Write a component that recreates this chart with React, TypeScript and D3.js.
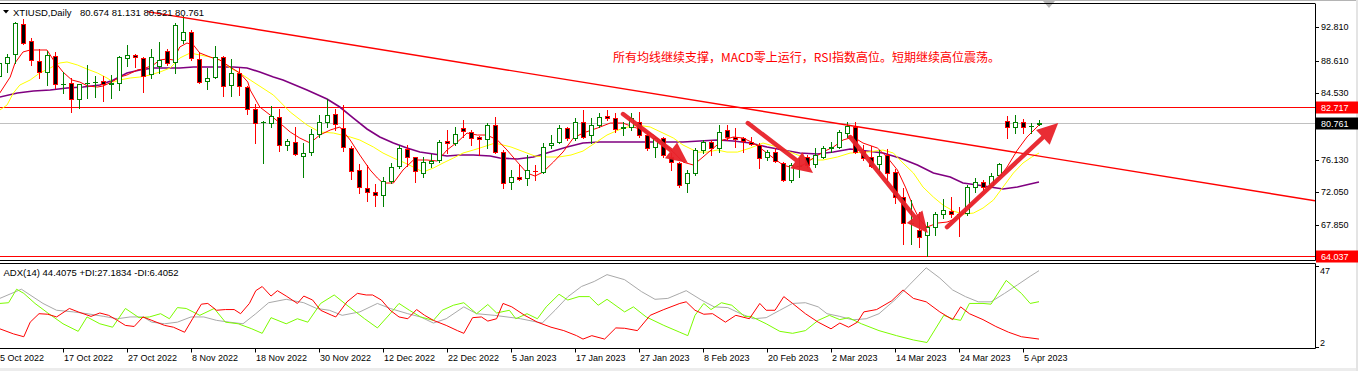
import React from "react";
import * as d3 from "d3";

// daily bars, XTIUSD, 5 Oct 2022 .. Apr 2023
const opens = [
  86.67, 88.31, 89.44, 93.23, 91.08, 88.56, 87.17, 89.19, 85.6, 85.79,
  83.77, 85.78, 85.91, 86.04, 85.7, 85.79, 88.94, 89.32, 88.94, 86.92,
  87.93, 89.82, 88.44, 91.21, 92.22, 88.81, 86.04, 86.54, 89.06, 85.53,
  87.05, 85.28, 82.51, 80.87, 80.74, 81.5, 77.97, 78.35, 76.58, 77.09,
  79.36, 80.87, 81.88, 80.11, 77.59, 74.82, 72.55, 72.04, 71.66, 73.43,
  75.32, 77.46, 76.46, 74.44, 75.7, 76.08, 78.47, 78.22, 80.11, 79.61,
  78.98, 78.73, 80.49, 77.09, 73.3, 73.93, 73.81, 74.75, 74.6, 77.97,
  78.38, 80.07, 78.81, 80.91, 79.23, 80.49, 81.63, 81.34, 80.17, 80.28,
  80.91, 79.23, 77.75, 78.81, 76.49, 75.66, 73.14, 74.4, 77.34, 78.38,
  77.55, 79.86, 79.01, 78.81, 78.38, 77.97, 76.49, 77.12, 75.66, 73.55,
  75.28, 76.49, 75.57, 76.49, 77.65, 77.75, 79.44, 80.3, 77.27, 76.49,
  75.57, 76.71, 74.6, 71.37, 68.17, 67.25, 66.62, 67.67, 69.27, 69.68,
  69.33, 69.43, 72.63, 73.34, 72.92, 74.18, 81.03, 80.28, 80.83, 80.34,
  80.674,
];
const highs = [
  88.69, 89.44, 93.48, 93.86, 91.46, 90.07, 89.82, 89.7, 87.17, 86.42,
  85.7, 88.06, 86.67, 86.67, 86.8, 89.19, 90.58, 89.44, 89.06, 90.07,
  90.96, 90.07, 93.35, 94.24, 92.47, 89.7, 87.68, 90.45, 89.19, 88.81,
  87.68, 85.41, 83.14, 81.0, 82.89, 82.51, 78.73, 80.24, 78.22, 79.99,
  81.75, 83.77, 82.51, 83.01, 77.84, 75.57, 75.45, 73.05, 73.93, 75.7,
  77.97, 77.97, 76.5, 76.46, 76.83, 78.6, 79.86, 80.24, 81.12, 79.86,
  79.1, 80.74, 81.5, 77.34, 74.82, 75.45, 76.71, 75.45, 78.22, 79.23,
  80.49, 80.28, 81.34, 82.38, 81.37, 82.0, 82.38, 82.04, 80.91, 82.0,
  82.17, 79.44, 79.01, 79.01, 76.92, 75.86, 74.82, 77.55, 78.6, 78.6,
  80.49, 80.49, 80.11, 79.01, 79.01, 78.18, 77.34, 77.55, 75.86, 75.66,
  76.33, 76.71, 77.55, 77.84, 78.38, 79.86, 80.91, 80.91, 77.97, 77.84,
  77.34, 77.43, 74.9, 72.51, 71.03, 69.56, 68.3, 69.56, 71.12, 71.45,
  70.11, 72.92, 73.77, 73.55, 74.48, 75.74, 81.62, 81.75, 81.21, 80.78,
  81.131,
];
const lows = [
  86.17, 87.17, 88.31, 90.7, 88.06, 86.42, 85.53, 85.16, 84.52, 82.13,
  82.63, 83.9, 84.02, 83.52, 83.9, 84.9, 87.93, 87.8, 84.65, 86.42,
  87.05, 88.06, 87.05, 90.83, 88.69, 85.79, 85.03, 86.42, 84.15, 84.15,
  84.27, 81.88, 78.22, 75.7, 80.24, 77.21, 77.34, 76.71, 73.93, 76.71,
  78.98, 80.24, 79.86, 77.21, 73.68, 71.92, 70.9, 70.28, 70.28, 73.18,
  75.07, 75.32, 73.3, 73.93, 75.19, 75.82, 76.96, 77.97, 78.98, 77.97,
  76.71, 77.59, 76.96, 72.55, 72.42, 73.55, 72.92, 73.55, 74.44, 77.55,
  78.22, 78.6, 78.6, 78.85, 78.22, 80.24, 81.12, 79.65, 79.23, 79.86,
  79.01, 77.34, 76.49, 76.49, 74.82, 72.71, 72.08, 74.18, 76.92, 76.71,
  77.12, 78.6, 77.75, 77.12, 77.97, 75.03, 76.08, 75.86, 73.47, 73.34,
  73.93, 75.23, 75.23, 76.29, 77.12, 77.55, 79.01, 76.92, 76.08, 75.16,
  74.48, 73.34, 70.62, 65.48, 65.48, 65.14, 64.04, 66.62, 68.73, 68.93,
  66.49, 69.14, 72.08, 72.29, 72.71, 73.97, 78.81, 79.44, 79.52, 79.44,
  80.521,
];
const closes = [
  88.31, 89.06, 93.35, 90.83, 88.69, 87.17, 89.32, 85.66, 85.66, 83.77,
  85.66, 85.85, 85.97, 85.66, 85.76, 89.06, 89.32, 89.06, 86.67, 89.06,
  88.69, 88.31, 93.1, 92.22, 88.94, 85.91, 86.42, 89.06, 85.41, 87.05,
  85.41, 82.51, 80.74, 80.93, 81.63, 77.97, 78.47, 76.83, 76.96, 79.36,
  80.87, 81.75, 80.62, 77.72, 74.69, 72.67, 72.04, 71.66, 73.43, 75.19,
  77.59, 76.46, 74.69, 75.82, 75.95, 78.35, 78.22, 79.36, 79.73, 78.85,
  78.73, 80.49, 77.09, 73.18, 73.93, 73.68, 74.82, 74.69, 77.75, 78.26,
  80.07, 78.81, 80.91, 79.01, 80.49, 81.46, 81.34, 79.95, 80.2, 81.34,
  79.23, 77.55, 78.81, 76.71, 75.86, 72.92, 74.4, 77.34, 78.38, 77.55,
  79.65, 79.01, 78.69, 78.51, 78.09, 76.29, 77.12, 75.99, 73.55, 75.45,
  75.32, 75.45, 76.71, 77.55, 77.68, 79.65, 80.36, 77.09, 76.29, 75.32,
  76.58, 74.48, 71.37, 68.09, 68.2, 66.33, 67.59, 69.27, 69.77, 69.27,
  69.27, 72.63, 73.34, 72.63, 74.06, 75.57, 80.28, 80.83, 80.2, 80.36,
  80.761,
];

// moving averages: [bar, price]
const maRed: [number, number][] = [
  [0.1, 84.53], [1.4, 86.54], [2.0, 88.31], [3.0, 89.7], [3.9, 89.95], [6.0, 89.95],
  [6.8, 88.69], [8.0, 87.17], [9.1, 86.17], [10.1, 85.91], [11.1, 85.41], [12.3, 85.28],
  [13.0, 85.41], [14.1, 85.91], [15.1, 86.54], [16.0, 86.8], [17.3, 87.43], [18.0, 87.55],
  [19.3, 88.06], [20.1, 88.69], [21.0, 88.81], [21.8, 88.69], [22.6, 90.33], [23.5, 90.83],
  [24.3, 90.58], [25.1, 89.57], [26.4, 89.06], [27.6, 88.69], [28.9, 87.8], [30.1, 87.05],
  [31.1, 85.91], [31.4, 84.9], [32.6, 82.76], [33.9, 81.75], [35.1, 80.74], [36.4, 79.61],
  [37.6, 78.85], [38.9, 78.22], [40.1, 79.23], [41.4, 79.86], [42.6, 80.24], [43.9, 78.6],
  [45.1, 76.71], [46.4, 74.82], [47.3, 73.81], [48.0, 73.18], [49.3, 73.18], [50.5, 74.82],
  [51.8, 76.08], [53.5, 76.08], [54.8, 75.95], [56.0, 77.34], [57.3, 78.35], [58.5, 79.48],
  [59.8, 79.23], [61.0, 79.23], [62.3, 78.6], [63.5, 77.34], [64.8, 75.82], [66.0, 74.44],
  [67.0, 74.06], [68.0, 74.56], [69.3, 75.82], [70.5, 77.09], [71.8, 78.85], [73.0, 79.48],
  [74.8, 80.11], [76.4, 80.74], [78.0, 80.74], [79.3, 80.24], [80.5, 79.86], [81.8, 79.23],
  [83.0, 78.22], [84.3, 77.09], [85.5, 75.82], [86.8, 75.45], [88.0, 76.46], [89.3, 77.59],
  [90.5, 78.6], [91.8, 78.98], [93.0, 78.85], [94.3, 78.22], [95.5, 77.34], [96.8, 76.33],
  [98.0, 75.45], [99.3, 75.07], [100.5, 75.45], [101.8, 76.33], [103.0, 77.09], [104.3, 77.72],
  [105.5, 78.6], [106.8, 78.98], [108.0, 78.22], [109.8, 77.59], [111.0, 76.46], [112.3, 74.82],
  [113.3, 72.67], [114.3, 70.15], [115.1, 68.51], [116.0, 67.63], [117.3, 68.13], [118.5, 68.26],
  [119.8, 68.76], [121.0, 69.77], [122.3, 71.28], [123.5, 72.29], [124.8, 73.55], [126.0, 75.19],
  [127.3, 77.34], [128.5, 78.98], [130.0, 80.49],
];
const maYellow: [number, number][] = [
  [0.1, 82.38], [1.0, 83.01], [1.8, 84.53], [2.6, 85.53], [3.9, 86.17], [5.1, 87.05],
  [6.4, 87.68], [7.6, 88.31], [8.5, 88.44], [9.8, 88.06], [11.0, 87.55], [12.3, 87.05],
  [13.5, 86.42], [14.3, 85.91], [15.1, 86.17], [16.4, 86.42], [17.6, 86.54], [18.9, 86.8],
  [20.1, 87.17], [21.4, 87.68], [22.6, 88.94], [23.9, 89.57], [25.1, 89.32], [26.4, 89.06],
  [27.6, 88.69], [28.9, 87.68], [30.1, 87.05], [31.4, 86.17], [34.3, 84.27], [36.4, 82.13],
  [38.5, 80.49], [40.1, 79.61], [41.8, 79.48], [43.9, 78.98], [45.1, 78.6], [46.8, 77.72],
  [48.0, 76.96], [49.3, 76.33], [50.5, 75.82], [51.8, 75.19], [53.0, 74.56], [54.3, 75.07],
  [55.5, 75.7], [56.8, 76.33], [58.0, 76.96], [59.3, 77.34], [60.5, 77.72], [62.0, 78.22],
  [64.0, 77.72], [66.0, 76.96], [67.0, 76.58], [68.5, 76.46], [70.0, 76.46], [71.5, 76.71],
  [73.0, 77.21], [74.5, 78.22], [76.0, 79.23], [78.0, 80.11], [79.8, 80.49], [81.4, 80.24],
  [83.0, 79.48], [84.3, 78.85], [85.5, 77.97], [87.3, 77.08], [88.5, 77.08], [89.8, 77.34],
  [91.0, 77.08], [92.3, 77.08], [93.9, 77.59], [95.5, 78.22], [97.3, 77.72], [98.9, 77.08],
  [100.5, 76.46], [101.8, 76.08], [103.0, 76.08], [104.8, 76.46], [106.4, 76.96], [108.5, 77.08],
  [110.5, 77.34], [111.8, 76.96], [113.0, 75.7], [114.3, 74.44], [115.5, 72.67], [116.8, 71.41],
  [118.0, 70.4], [119.3, 69.65], [120.5, 69.27], [121.8, 69.39], [123.0, 70.02], [124.3, 71.03],
  [125.5, 72.67], [126.8, 74.44], [128.0, 75.7], [129.1, 76.46], [130.0, 76.96],
];
const maPurple: [number, number][] = [
  [0.1, 84.02], [2.3, 84.53], [4.3, 84.78], [6.4, 84.9], [8.5, 85.16], [10.5, 85.28],
  [12.6, 85.53], [14.3, 86.17], [16.0, 87.05], [17.6, 87.43], [19.3, 87.68], [21.0, 87.68],
  [22.6, 87.68], [24.3, 87.8], [26.0, 87.8], [27.6, 87.8], [29.3, 87.8], [31.0, 87.68],
  [32.6, 87.17], [34.3, 86.54], [35.5, 86.17], [38.5, 84.9], [41.0, 83.77], [42.6, 82.76],
  [44.3, 81.37], [46.0, 79.99], [47.6, 78.98], [49.3, 78.22], [51.0, 77.59], [52.6, 77.09],
  [54.3, 76.83], [56.0, 76.58], [57.6, 76.71], [59.3, 76.71], [61.4, 76.58], [62.6, 76.33],
  [64.8, 76.2], [66.8, 76.46], [68.9, 77.09], [71.0, 77.72], [73.0, 78.22], [75.1, 78.35],
  [77.3, 78.35], [79.3, 78.35], [81.4, 78.35], [83.5, 78.35], [85.5, 78.35], [87.6, 78.47],
  [89.8, 78.6], [91.8, 78.47], [93.9, 78.22], [96.0, 77.72], [98.0, 77.34], [100.1, 76.96],
  [102.3, 76.83], [104.3, 77.09], [106.4, 77.46], [108.5, 77.21], [110.5, 76.96], [112.6, 76.33],
  [114.8, 75.45], [116.8, 74.44], [118.9, 73.93], [120.5, 73.18], [122.3, 72.92], [123.9, 72.67],
  [125.5, 72.42], [127.3, 72.67], [128.9, 73.05], [130.0, 73.3],
];

// ADX(14) panel: [bar, value]
const adxMain: [number, number][] = [
  [0.1, 29.0], [2.8, 34.1], [5.5, 26.2], [7.2, 22.4], [9.3, 21.5], [11.0, 20.5], [13.1, 19.0],
  [14.8, 17.7], [16.4, 18.7], [18.0, 18.7], [19.1, 15.8], [20.7, 14.9], [22.3, 15.8], [24.0, 18.7],
  [25.6, 18.7], [27.2, 16.8], [28.8, 15.8], [30.5, 14.9], [32.1, 20.5], [33.7, 26.6], [35.9, 28.5],
  [38.1, 26.6], [39.7, 23.4], [41.3, 22.4], [42.9, 19.6], [45.1, 21.5], [47.3, 26.2], [48.9, 23.4],
  [51.1, 20.5], [52.7, 18.7], [54.3, 15.3], [55.9, 17.7], [58.1, 24.3], [59.7, 20.5], [61.9, 19.6],
  [63.5, 18.7], [65.2, 17.7], [67.9, 15.3], [69.5, 22.4], [71.1, 29.9], [72.8, 35.6], [74.4, 38.4],
  [76.0, 42.2], [78.2, 39.4], [80.3, 32.8], [82.0, 28.5], [83.6, 29.0], [85.1, 31.8], [85.9, 33.3],
  [87.8, 28.1], [89.4, 24.3], [91.1, 23.9], [92.7, 20.5], [94.3, 17.7], [95.9, 18.3], [97.6, 22.4],
  [99.2, 26.2], [100.8, 26.6], [102.4, 24.3], [103.5, 20.5], [105.1, 19.0], [106.7, 17.1],
  [108.4, 17.7], [110.0, 20.5], [112.2, 29.0], [113.8, 36.5], [115.9, 46.0], [117.6, 40.3],
  [119.2, 33.7], [120.8, 30.0], [122.4, 27.1], [124.0, 27.1], [125.7, 31.8], [127.3, 36.5],
  [128.9, 41.3], [130, 44.4075],
];
const diPlus: [number, number][] = [
  [0.1, 26.2], [1.2, 26.6], [2.2, 34.1], [3.1, 31.8], [4.5, 26.2], [6.1, 20.9], [8.0, 14.9],
  [9.9, 10.7], [11.0, 18.7], [12.6, 14.9], [14.2, 13.0], [15.8, 23.4], [17.5, 18.3], [18.8, 18.7],
  [20.2, 20.5], [21.3, 17.7], [22.3, 23.9], [23.4, 23.4], [25.1, 19.6], [26.9, 23.4], [28.3, 15.8],
  [29.9, 14.9], [31.6, 12.1], [32.9, 9.6], [34.0, 18.3], [35.9, 14.9], [37.3, 17.7], [38.6, 15.8],
  [40.2, 26.2], [41.9, 30.9], [43.5, 25.2], [45.7, 17.7], [47.3, 12.6], [48.9, 20.5], [50.0, 26.2],
  [51.3, 22.4], [52.7, 18.7], [54.3, 16.8], [55.4, 22.4], [56.8, 25.2], [58.1, 26.6], [59.7, 20.5],
  [61.1, 25.6], [62.2, 20.9], [63.8, 22.4], [64.6, 17.7], [66.0, 20.5], [67.3, 17.7], [68.4, 24.3],
  [70.0, 31.3], [71.1, 28.1], [72.5, 30.0], [73.8, 30.0], [74.9, 25.2], [76.0, 28.5], [78.2, 21.5],
  [79.3, 24.3], [80.9, 18.7], [83.1, 14.0], [85.1, 10.2], [86.1, 8.3], [87.0, 19.6], [88.1, 26.2],
  [89.0, 22.8], [90.3, 26.6], [91.6, 25.2], [93.2, 19.0], [94.0, 19.0], [95.9, 14.9], [97.6, 10.7],
  [99.2, 9.6], [100.8, 11.1], [102.4, 16.8], [103.8, 19.6], [105.1, 17.2], [106.2, 18.3],
  [107.8, 14.9], [110.0, 11.1], [112.2, 8.3], [114.3, 5.9], [116.0, 4.5], [118.1, 19.6],
  [119.2, 17.7], [120.2, 16.8], [121.3, 26.2], [123.0, 26.2], [124.0, 25.8], [125.9, 39.0],
  [127.8, 31.8], [128.9, 26.2], [130, 27.1834],
];
const diMinus: [number, number][] = [
  [0.1, 12.1], [1.8, 9.3], [3.1, 7.7], [3.9, 15.8], [5.0, 20.5], [6.1, 20.2], [7.2, 18.7],
  [8.8, 23.4], [9.9, 21.5], [11.5, 19.0], [12.6, 20.9], [13.7, 19.6], [14.8, 16.8], [15.8, 14.0],
  [16.9, 13.4], [18.0, 18.7], [19.1, 16.8], [20.7, 14.0], [21.8, 13.0], [23.2, 10.2], [24.2, 17.7],
  [25.3, 25.8], [26.1, 26.2], [27.2, 22.4], [28.3, 22.8], [29.4, 22.8], [30.2, 20.5], [31.3, 26.2],
  [32.1, 33.3], [32.9, 35.6], [34.0, 30.3], [34.8, 33.3], [35.9, 30.3], [37.3, 26.2], [38.1, 30.3],
  [39.2, 28.1], [40.2, 22.4], [41.6, 19.6], [42.1, 18.7], [43.5, 27.1], [44.8, 31.8], [45.9, 30.9],
  [46.7, 30.9], [47.8, 28.1], [48.9, 22.4], [50.0, 18.7], [51.1, 17.7], [52.2, 22.8], [53.2, 19.6],
  [54.3, 16.8], [55.9, 14.0], [57.3, 11.1], [58.1, 9.6], [59.2, 18.3], [60.3, 18.7], [61.1, 16.4],
  [62.2, 17.7], [63.0, 26.2], [64.1, 24.3], [65.7, 19.6], [67.3, 15.8], [69.0, 13.0], [70.6, 11.1],
  [72.2, 8.3], [73.0, 6.4], [74.1, 8.3], [75.7, 6.4], [77.1, 12.6], [78.2, 12.4], [79.8, 11.1],
  [81.4, 19.6], [83.1, 22.8], [85.1, 26.2], [85.9, 27.1], [87.0, 22.4], [88.1, 20.2], [89.2, 20.5],
  [90.8, 15.8], [92.1, 19.6], [93.8, 17.7], [95.1, 26.2], [95.9, 22.4], [97.0, 22.4], [98.1, 30.0],
  [99.2, 26.2], [100.8, 20.5], [102.4, 15.8], [104.0, 12.1], [105.1, 15.3], [106.2, 13.0],
  [107.3, 15.8], [108.1, 21.5], [109.7, 22.8], [111.6, 27.7], [113.0, 33.7], [114.3, 29.0],
  [115.9, 27.1], [117.6, 21.5], [119.2, 17.2], [120.2, 24.3], [121.3, 20.5], [123.0, 17.2],
  [124.6, 13.4], [126.2, 10.2], [127.8, 7.7], [130, 6.4052],
];

const dateLabels = [
  "5 Oct 2022", "17 Oct 2022", "27 Oct 2022", "8 Nov 2022", "18 Nov 2022", "30 Nov 2022",
  "12 Dec 2022", "22 Dec 2022", "5 Jan 2023", "17 Jan 2023", "27 Jan 2023", "8 Feb 2023",
  "20 Feb 2023", "2 Mar 2023", "14 Mar 2023", "24 Mar 2023", "5 Apr 2023",
];
const priceTicks = [92.81, 88.61, 84.53, 80.45, 76.13, 72.05, 67.85, 63.77];
const adxTicks = [47, 2];

const levelTop = 82.717;
const levelBottom = 64.037;
const bidPrice = 80.761;

// drawn objects, in [bar, price]
const trendLine: [number, number][] = [[18.5, 94.78], [164.5, 70.94]];
const arrowMarks: [number, number][][] = [
  [[78.0, 81.88], [86.1, 75.7]],
  [[93.6, 80.74], [101.75, 74.44]],
  [[106.4, 78.98], [116.1, 66.87]],
  [[118.5, 67.63], [132.4, 80.74]],
];
const note = "所有均线继续支撑，MACD零上运行，RSI指数高位。短期继续高位震荡。";

const App = () => {
  const width = 1358;
  const height = 371;
  const right = 1315;
  const mainTop = 3.5, mainBottom = 260.5;
  const subTop = 263.5, subBottom = 348.5;
  const font = "'Liberation Sans', Arial, sans-serif";

  const x = d3.scaleLinear().domain([0, 130]).range([-1, 1039]);
  const y = d3.scaleLinear().domain([67.85, 92.81]).range([225.3, 27.3]);
  const ya = d3.scaleLinear().domain([2, 47]).range([347, 266]);

  const priceLine = d3.line<[number, number]>().x(d => x(d[0])).y(d => y(d[1]));
  const adxPath = d3.line<[number, number]>().x(d => x(d[0])).y(d => ya(d[1]));

  const arrowColor = "#e8222a";
  const px = (v: number) => Math.round(v);

  return (
    <div>
      <style>{"body{margin:0;background:#fff}"}</style>
      <svg width={width} height={height} style={{ display: "block", background: "#fff" }}>
        <defs>
          <clipPath id="mainClip">
            <rect x={0} y={mainTop + 0.5} width={right} height={mainBottom - mainTop - 1} />
          </clipPath>
          <clipPath id="subClip">
            <rect x={0} y={subTop + 0.5} width={right} height={subBottom - subTop - 1} />
          </clipPath>
        </defs>

        {/* window chrome */}
        <line x1={0} x2={width} y1={0.5} y2={0.5} stroke="#b4b4b4" />
        <polygon points="1043,1 1055,1 1049,8" fill="#b8b8b8" />
        <rect x={0} y={368} width={width} height={3} fill="#ececec" />
        <rect x={1356} y={0} width={2} height={height} fill="#e4e4e4" />

        {/* main panel */}
        <g clipPath="url(#mainClip)">
          <line x1={0} x2={right} y1={px(y(bidPrice)) + 0.5} y2={px(y(bidPrice)) + 0.5} stroke="#c0c0c0" />
          <line x1={0} x2={right} y1={px(y(levelTop)) + 0.5} y2={px(y(levelTop)) + 0.5} stroke="#ff0000" strokeWidth={1.2} />
          <line x1={0} x2={right} y1={px(y(levelBottom)) + 0.5} y2={px(y(levelBottom)) + 0.5} stroke="#ff0000" strokeWidth={1.2} />

          <path d={priceLine(maPurple) || ""} fill="none" stroke="#800080" strokeWidth={1.6} />
          <path d={priceLine(maYellow) || ""} fill="none" stroke="#ffff00" strokeWidth={1} />
          <path d={priceLine(maRed) || ""} fill="none" stroke="#ff0000" strokeWidth={1} />

          {closes.map((c, i) => {
            const o = opens[i];
            const up = c >= o;
            const col = up ? "#008000" : "#ff0000";
            const cx = px(x(i));
            const yt = px(y(Math.max(o, c)));
            const yb = px(y(Math.min(o, c)));
            return (
              <g key={i}>
                <line x1={cx + 0.5} x2={cx + 0.5} y1={px(y(highs[i]))} y2={px(y(lows[i])) + 1} stroke={col} />
                {yb - yt >= 1 ? (
                  <rect x={cx - 1.5} y={yt + 0.5} width={4} height={yb - yt} fill={up ? "#ffffff" : "#000000"} stroke={col} />
                ) : (
                  <line x1={cx - 2} x2={cx + 3} y1={yt + 0.5} y2={yt + 0.5} stroke={col} />
                )}
              </g>
            );
          })}

          <path d={priceLine(trendLine) || ""} fill="none" stroke="#ff0000" strokeWidth={1.4} />

          {arrowMarks.map((a, k) => {
            const x0 = x(a[0][0]), y0 = y(a[0][1]);
            const x1 = x(a[1][0]), y1 = y(a[1][1]);
            const len = Math.hypot(x1 - x0, y1 - y0);
            const ux = (x1 - x0) / len, uy = (y1 - y0) / len;
            const hl = 21, hw = 10;
            const bx = x1 - ux * hl, by = y1 - uy * hl;
            return (
              <g key={k} opacity={0.95}>
                <line x1={x0} y1={y0} x2={bx + ux * 3} y2={by + uy * 3} stroke={arrowColor} strokeWidth={4.5} strokeLinecap="round" />
                <polygon
                  points={`${x1},${y1} ${bx - uy * hw},${by + ux * hw} ${bx + uy * hw},${by - ux * hw}`}
                  fill={arrowColor}
                />
              </g>
            );
          })}

          <text x={613} y={61.5} fontFamily="'Noto Sans CJK SC', sans-serif" fontSize={12} fill="#ff0000">
            {note}
          </text>
        </g>

        {/* header */}
        <polygon points="3,10 9,10 6,13.5" fill="#000" />
        <text x={13} y={15.5} fontFamily={font} fontSize={9.5} fill="#000">XTIUSD,Daily</text>
        <text x={80} y={15.5} fontFamily={font} fontSize={9.5} fill="#000">
          {`${opens[130].toFixed(3)} ${highs[130].toFixed(3)} ${lows[130].toFixed(3)} ${closes[130].toFixed(3)}`}
        </text>

        {/* ADX panel */}
        <g clipPath="url(#subClip)">
          <path d={adxPath(adxMain) || ""} fill="none" stroke="#a9a9a9" strokeWidth={1} />
          <path d={adxPath(diPlus) || ""} fill="none" stroke="#7cfc00" strokeWidth={1} />
          <path d={adxPath(diMinus) || ""} fill="none" stroke="#ff0000" strokeWidth={1} />
        </g>
        <text x={3.5} y={276} fontFamily={font} fontSize={9.5} fill="#000">
          {`ADX(14) ${adxMain[adxMain.length - 1][1]} +DI:${diPlus[diPlus.length - 1][1]} -DI:${diMinus[diMinus.length - 1][1]}`}
        </text>

        {/* frames */}
        <line x1={0} x2={right} y1={mainTop} y2={mainTop} stroke="#000" />
        <line x1={0} x2={right + 0.5} y1={mainBottom} y2={mainBottom} stroke="#000" />
        <line x1={0} x2={right + 0.5} y1={subTop} y2={subTop} stroke="#000" />
        <line x1={0} x2={right + 0.5} y1={subBottom} y2={subBottom} stroke="#000" />
        <line x1={right + 0.5} x2={right + 0.5} y1={mainTop} y2={mainBottom} stroke="#000" />
        <line x1={right + 0.5} x2={right + 0.5} y1={subTop} y2={subBottom} stroke="#000" />

        {/* price axis */}
        {priceTicks.map(t => (
          <g key={t}>
            <line x1={right} x2={right + 4} y1={px(y(t)) + 0.5} y2={px(y(t)) + 0.5} stroke="#000" />
            <text x={right + 6} y={y(t)} dy="0.35em" fontFamily={font} fontSize={9} fill="#000">
              {t.toFixed(3)}
            </text>
          </g>
        ))}
        {[
          { v: levelTop, bg: "#ff0000" },
          { v: bidPrice, bg: "#000000" },
          { v: levelBottom, bg: "#ff0000" },
        ].map(d => (
          <g key={d.v}>
            <rect x={right + 1} y={px(y(d.v)) - 5.5} width={42} height={12} fill={d.bg} />
            <text x={right + 6} y={px(y(d.v)) + 0.5} dy="0.35em" fontFamily={font} fontSize={9} fill="#fff">
              {d.v.toFixed(3)}
            </text>
          </g>
        ))}

        {/* ADX axis */}
        {adxTicks.map((t, k) => (
          <g key={t}>
            <line x1={right} x2={right + 4} y1={px(ya(t)) + 0.5} y2={px(ya(t)) + 0.5} stroke="#000" />
            <text x={right + 5} y={ya(t) + (k === 0 ? 4.5 : -4.5)} dy="0.35em" fontFamily={font} fontSize={9} fill="#000">
              {t}
            </text>
          </g>
        ))}

        {/* time axis */}
        {dateLabels.map((lab, k) => {
          const tx = px(x(k * 8));
          return (
            <g key={lab}>
              <line x1={tx + 0.5} x2={tx + 0.5} y1={subBottom} y2={subBottom + 4} stroke="#000" />
              <text x={tx + 1} y={357.5} dy="0.35em" fontFamily={font} fontSize={9} fill="#000">
                {lab}
              </text>
            </g>
          );
        })}
      </svg>
    </div>
  );
};

export default App;
